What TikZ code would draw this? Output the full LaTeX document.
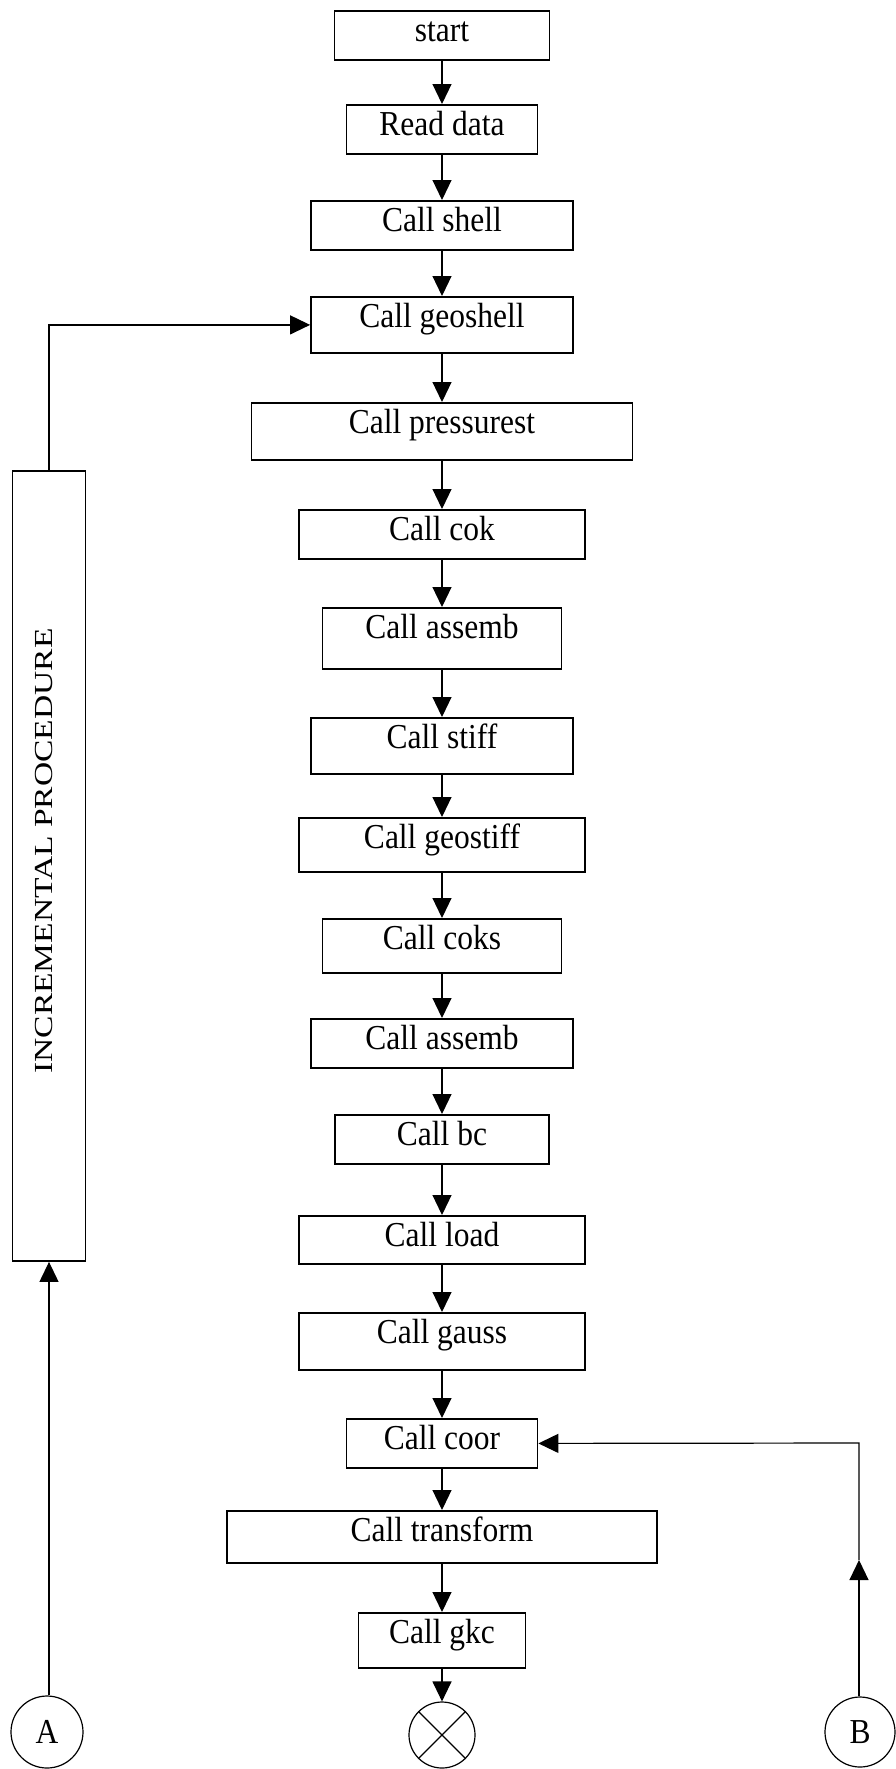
\documentclass[tikz,border=0pt]{standalone}
\usepackage{fontspec}
\setmainfont[FakeStretch=0.9]{Liberation Serif}
\newfontfamily\sidefont[FakeStretch=1.29]{Liberation Serif}
\usetikzlibrary{arrows.meta}

\tikzset{
  box/.style 2 args={draw, line width=1.8pt, inner sep=0pt, anchor=north,
    minimum width=#1, text height=31pt, text depth=#2},
  arr/.style={line width=1.2pt, -{Triangle[length=20pt,width=19pt]}},
  conn/.style={draw, circle, line width=1.2pt, inner sep=0pt, minimum size=#1},
}

\begin{document}
\begin{tikzpicture}[x=1pt,y=-1pt,font=\fontsize{35}{40}\selectfont]
  \useasboundingbox (0,0) rectangle (895,1769);

  % main column
  \node[box={215pt}{18pt}] (start)     at (442,10)   {start};
  \node[box={191pt}{18pt}] (read)      at (442,104)  {Read data};
  \node[box={262pt}{18pt}] (shell)     at (442,200)  {Call shell};
  \node[box={262pt}{25pt}] (geoshell)  at (442,296)  {Call geoshell};
  \node[box={381pt}{26pt}] (pressure)  at (442,402)  {Call pressurest};
  \node[box={286pt}{18pt}] (cok)       at (442,509)  {Call cok};
  \node[box={239pt}{30pt}] (assemb)    at (442,607)  {Call assemb};
  \node[box={262pt}{25pt}] (stiff)     at (442,717)  {Call stiff};
  \node[box={286pt}{23pt}] (geostiff)  at (442,817)  {Call geostiff};
  \node[box={239pt}{23pt}] (coks)      at (442,918)  {Call coks};
  \node[box={262pt}{18pt}] (assembb)   at (442,1018) {Call assemb};
  \node[box={214pt}{18pt}] (bc)        at (442,1114) {Call bc};
  \node[box={286pt}{17pt}] (load)      at (442,1215) {Call load};
  \node[box={286pt}{26pt}] (gauss)     at (442,1312) {Call gauss};
  \node[box={191pt}{18pt}] (coor)      at (442,1418) {Call coor};
  \node[box={430pt}{21pt}] (transform) at (442,1510) {Call transform};
  \node[box={167pt}{24pt}] (gkc)       at (442,1612) {Call gkc};

  % end symbol
  \node[conn=66pt] (stop) at (442,1735) {};
  \draw[line width=1.2pt] (stop.45) -- (stop.225) (stop.135) -- (stop.-45);

  \foreach \a/\b in {start/read, read/shell, shell/geoshell, geoshell/pressure,
      pressure/cok, cok/assemb, assemb/stiff, stiff/geostiff, geostiff/coks,
      coks/assembb, assembb/bc, bc/load, load/gauss, gauss/coor,
      coor/transform, transform/gkc, gkc/stop}
    \draw[arr] (\a) -- (\b);

  % incremental loop on the left
  \node[draw, line width=1.8pt, inner sep=0pt, minimum width=73pt,
    minimum height=790pt] (incr) at (49,866) {};
  \node[rotate=90, inner sep=0pt, font=\sidefont\fontsize{26}{30}\selectfont]
    (incrtext) at (44,851) {INCREMENTAL PROCEDURE};
  \node[conn=72pt] (A) at (47,1732) {A};
  \draw[arr] (A.north -| incr.south) -- (incr.south);
  \draw[arr] (incr.north) |- (geoshell.west);

  % connector B back to coor
  \node[conn=70pt] (B) at (860,1732) {B};
  \coordinate (bmid) at (859,1560);
  \coordinate (bturn) at (859,1443);
  \draw[arr] (B.north -| bmid) -- (bmid);
  \draw[arr] (bmid) -- (bturn) -- (coor.east);
\end{tikzpicture}
\end{document}
